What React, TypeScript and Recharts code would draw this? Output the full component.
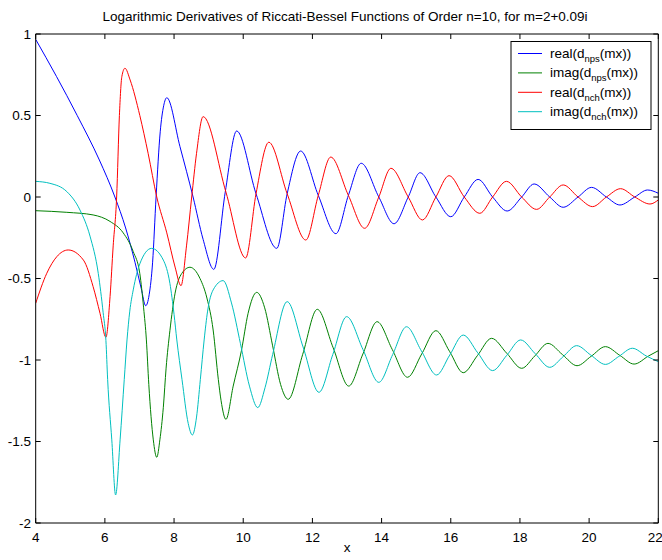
import React from 'react';
import { LineChart, Line, XAxis, YAxis } from 'recharts';

// [x, value] pairs
const realNps: [number, number][] = [
  [4.0, 0.967], [4.6, 0.74], [5.2, 0.5], [5.84, 0.227], [6.29, 0.0], [6.6, -0.19], [6.87, -0.4], [7.05, -0.56],
  [7.18, -0.667], [7.28, -0.6], [7.38, -0.4], [7.48, 0.0], [7.6, 0.4], [7.7, 0.56], [7.79, 0.609],
  [8.17, 0.31], [8.55, 0.0], [8.84, -0.26], [9.15, -0.444], [9.48, 0.03], [9.81, 0.405], [10.37, 0.02],
  [10.97, -0.315], [11.27, 0.02], [11.66, 0.282], [12.17, 0.01], [12.68, -0.225], [13.04, 0.01], [13.41, 0.207],
  [13.92, 0.0], [14.36, -0.164], [14.77, 0.0], [15.11, 0.149], [15.57, 0.0], [16.0, -0.121], [16.39, 0.0],
  [16.79, 0.108], [17.21, 0.0], [17.63, -0.086], [18.05, 0.0], [18.41, 0.08], [18.86, 0.0], [19.25, -0.063],
  [19.68, 0.0], [20.07, 0.059], [20.5, 0.0], [20.89, -0.049], [21.32, 0.0], [21.69, 0.043], [22.0, 0.023],
];

const imagNps: [number, number][] = [
  [4.0, -0.084], [4.9, -0.094], [5.66, -0.11], [6.15, -0.15], [6.53, -0.22], [6.82, -0.335], [7.01, -0.47],
  [7.12, -0.68], [7.2, -0.877], [7.27, -1.15], [7.4, -1.49], [7.5, -1.597], [7.59, -1.49], [7.69, -1.29],
  [7.77, -1.05], [7.88, -0.82], [8.03, -0.59], [8.22, -0.47], [8.46, -0.431], [8.75, -0.5], [8.95, -0.62],
  [9.13, -0.816], [9.28, -1.12], [9.36, -1.25], [9.5, -1.364], [9.71, -1.16], [9.95, -0.94], [10.14, -0.714],
  [10.39, -0.585], [10.62, -0.68], [10.85, -0.913], [11.08, -1.15], [11.3, -1.241], [11.72, -0.965],
  [12.14, -0.689], [12.6, -0.925], [13.05, -1.16], [13.46, -0.963], [13.87, -0.765], [14.31, -0.936],
  [14.75, -1.106], [15.16, -0.963], [15.57, -0.82], [15.97, -0.949], [16.36, -1.078], [16.77, -0.973],
  [17.18, -0.867], [17.62, -0.959], [18.05, -1.051], [18.43, -0.975], [18.81, -0.898], [19.23, -0.967],
  [19.65, -1.035], [20.06, -0.977], [20.47, -0.918], [20.89, -0.972], [21.3, -1.025], [21.72, -0.975],
  [22.0, -0.943],
];

const realNch: [number, number][] = [
  [4.0, -0.652], [4.32, -0.468], [4.61, -0.366], [4.94, -0.325], [5.38, -0.387], [5.66, -0.55],
  [5.86, -0.714], [6.03, -0.861], [6.15, -0.61], [6.24, -0.3], [6.34, 0.0], [6.42, 0.5], [6.49, 0.738],
  [6.58, 0.79], [6.73, 0.718], [7.01, 0.5], [7.25, 0.268], [7.5, 0.0], [7.79, -0.22], [8.03, -0.43], [8.2, -0.544],
  [8.36, -0.3], [8.51, 0.0], [8.65, 0.268], [8.84, 0.493], [9.5, 0.03], [10.07, -0.374], [10.37, 0.02],
  [10.74, 0.336], [11.27, 0.02], [11.81, -0.264], [12.17, 0.01], [12.53, 0.245], [13.04, 0.01],
  [13.51, -0.192], [13.92, 0.0], [14.27, 0.176], [14.77, 0.0], [15.18, -0.141], [15.57, 0.0], [15.95, 0.131],
  [16.39, 0.0], [16.84, -0.1], [17.21, 0.0], [17.61, 0.096], [18.05, 0.0], [18.48, -0.076], [18.86, 0.0],
  [19.25, 0.074], [19.68, 0.0], [20.1, -0.059], [20.5, 0.0], [20.91, 0.051], [21.32, 0.0], [21.76, -0.043],
  [22.0, -0.018],
];

const imagNch: [number, number][] = [
  [4.0, 0.096], [4.41, 0.084], [4.9, 0.033], [5.28, -0.08], [5.57, -0.24], [5.81, -0.47], [5.95, -0.71],
  [6.03, -0.88], [6.08, -1.12], [6.2, -1.49], [6.31, -1.828], [6.44, -1.49], [6.56, -1.12], [6.64, -0.877],
  [6.72, -0.7], [6.82, -0.57], [7.01, -0.41], [7.35, -0.315], [7.69, -0.387], [7.88, -0.53], [8.0, -0.72],
  [8.08, -0.877], [8.23, -1.12], [8.41, -1.39], [8.53, -1.46], [8.65, -1.35], [8.76, -1.12], [8.87, -0.877],
  [8.97, -0.7], [9.13, -0.57], [9.42, -0.513], [9.66, -0.65], [9.92, -0.9], [10.18, -1.16], [10.42, -1.292],
  [10.63, -1.17], [10.85, -0.967], [11.27, -0.642], [11.73, -0.92], [12.19, -1.198], [12.59, -0.966],
  [12.99, -0.734], [13.46, -0.935], [13.92, -1.137], [14.32, -0.967], [14.72, -0.796], [15.15, -0.944],
  [15.59, -1.092], [15.97, -0.97], [16.36, -0.847], [16.78, -0.956], [17.21, -1.065], [17.62, -0.971],
  [18.02, -0.877], [18.44, -0.961], [18.86, -1.045], [19.25, -0.979], [19.64, -0.912], [20.05, -0.97],
  [20.47, -1.027], [20.86, -0.978], [21.25, -0.928], [21.65, -0.975], [22.0, -1.01],
];

const xTicks = [4, 6, 8, 10, 12, 14, 16, 18, 20, 22];
const yTicks = [-2, -1.5, -1, -0.5, 0, 0.5, 1];

const titleText = 'Logarithmic Derivatives of Riccati-Bessel Functions of Order n=10, for m=2+0.09i';
const xLabel = 'x';

const series = [
  { name: 'realNps', data: realNps, color: '#0000ff', pre: 'real(d', sub: 'nps', post: '(mx))' },
  { name: 'imagNps', data: imagNps, color: '#008000', pre: 'imag(d', sub: 'nps', post: '(mx))' },
  { name: 'realNch', data: realNch, color: '#ff0000', pre: 'real(d', sub: 'nch', post: '(mx))' },
  { name: 'imagNch', data: imagNch, color: '#00bfbf', pre: 'imag(d', sub: 'nch', post: '(mx))' },
];

const FONT = '"Liberation Sans", Arial, Helvetica, sans-serif';
const tickStyle = { fontSize: 13.5, fill: '#000', fontFamily: FONT };
const NoLabel = () => <g />;

export default function App() {
  return (
    <div style={{ position: 'absolute', left: 0, top: 0, width: 662, height: 560, background: '#fff' }}>
      <LineChart width={662} height={560} margin={{ top: 33, right: 2.7, bottom: 7, left: 5.7 }}>
        <XAxis
          xAxisId="main"
          type="number"
          dataKey="x"
          domain={[4, 22]}
          ticks={xTicks}
          allowDataOverflow
          height={30}
          tickSize={-5}
          tickMargin={14}
          tick={tickStyle}
          stroke="#000"
          tickLine={{ stroke: '#000' }}
          axisLine={{ stroke: '#000' }}
        />
        <XAxis
          xAxisId="top"
          orientation="top"
          type="number"
          dataKey="x"
          domain={[4, 22]}
          ticks={xTicks}
          allowDataOverflow
          height={1}
          tickSize={-5}
          tick={NoLabel}
          stroke="#000"
          tickLine={{ stroke: '#000' }}
          axisLine={{ stroke: '#000' }}
        />
        <YAxis
          yAxisId="main"
          type="number"
          domain={[-2, 1]}
          ticks={yTicks}
          allowDataOverflow
          width={30}
          tickSize={-5}
          tickMargin={9.7}
          tick={tickStyle}
          stroke="#000"
          tickLine={{ stroke: '#000' }}
          axisLine={{ stroke: '#000' }}
        />
        <YAxis
          yAxisId="right"
          orientation="right"
          type="number"
          domain={[-2, 1]}
          ticks={yTicks}
          allowDataOverflow
          width={1}
          tickSize={-5}
          tick={NoLabel}
          stroke="#000"
          tickLine={{ stroke: '#000' }}
          axisLine={{ stroke: '#000' }}
        />
        {series.map((s) => (
          <Line
            key={s.name}
            xAxisId="main"
            yAxisId="main"
            data={s.data.map(([x, y]) => ({ x, y }))}
            dataKey="y"
            type="monotone"
            stroke={s.color}
            strokeWidth={1}
            dot={false}
            activeDot={false}
            isAnimationActive={false}
          />
        ))}
      </LineChart>
      <svg
        width={662}
        height={560}
        style={{ position: 'absolute', left: 0, top: 0, pointerEvents: 'none' }}
        fontFamily={FONT}
      >
        <text x={345} y={21} textAnchor="middle" fontSize={13.5} fill="#000">
          {titleText}
        </text>
        <text x={347} y={552} textAnchor="middle" fontSize={13.5} fill="#000">
          {xLabel}
        </text>
        <rect x={511} y={41.5} width={140} height={88} fill="#fff" stroke="#000" strokeWidth={1} />
        {series.map((s, i) => {
          const base = 58 + i * 19.4;
          return (
            <g key={s.name}>
              <line x1={518} x2={542} y1={base - 4.5} y2={base - 4.5} stroke={s.color} strokeWidth={1} />
              <text x={550} y={base} fontSize={13.5} fill="#000">
                {s.pre}
                <tspan fontSize={9.5} dy={4}>{s.sub}</tspan>
                <tspan dy={-4}>{s.post}</tspan>
              </text>
            </g>
          );
        })}
      </svg>
    </div>
  );
}
